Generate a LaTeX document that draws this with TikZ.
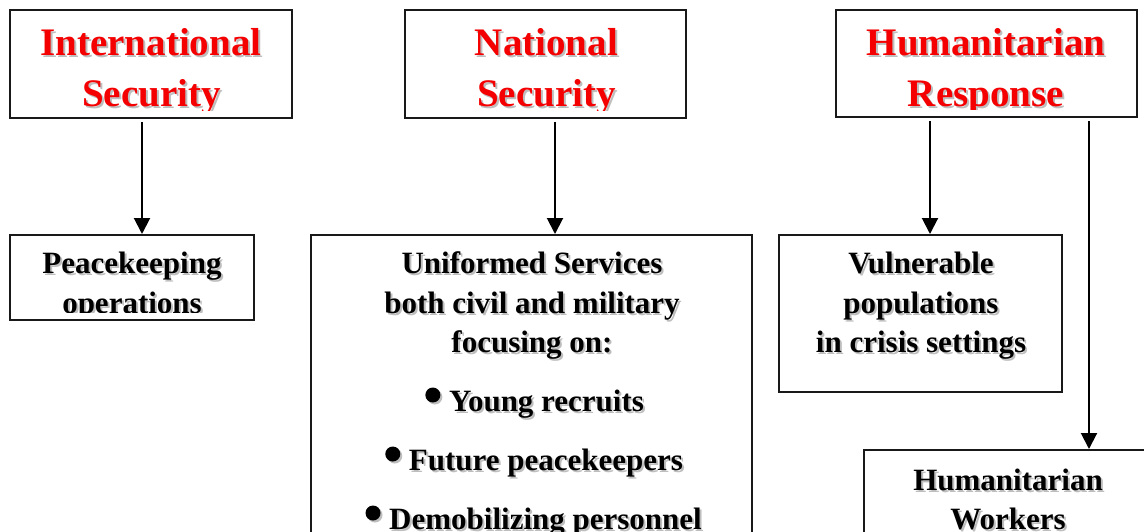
\documentclass[tikz,border=0pt]{standalone}
\usepackage{fontspec}
\setmainfont{Liberation Serif}
\usetikzlibrary{arrows.meta,calc}
\definecolor{shadowgray}{RGB}{190,190,190}
\definecolor{titlered}{RGB}{245,0,0}
\newcommand{\shd}[2]{\leavevmode\rlap{\kern2pt\raisebox{-2pt}{\textcolor{shadowgray}{#2}}}\textcolor{#1}{#2}}
\begin{document}
\begin{tikzpicture}[x=1pt,y=-1pt,
  boxnode/.style={draw=black!90, line width=2pt, rectangle, inner sep=0pt, fill=none},
  bodytxt/.style={inner sep=0pt, font=\bfseries\fontsize{31}{31}\selectfont, anchor=base},
  titletxt/.style={inner sep=0pt, font=\bfseries\fontsize{39}{39}\selectfont, anchor=base},
  arr/.style={line width=2pt, draw=black, -{Triangle[length=16pt,width=16pt]}, shorten <=3pt}
]
\useasboundingbox (0,0) rectangle (1144,531);
\fill[white] (0,0) rectangle (1144,531);
\clip (0,0) rectangle (1144,531);

% ---- boxes ----
\node[boxnode, minimum width=282pt, minimum height=108pt] (is) at (151,64) {};
\node[boxnode, minimum width=281pt, minimum height=108pt] (ns) at (545.5,64) {};
\node[boxnode, minimum width=301pt, minimum height=107pt] (hr) at (986.5,63.5) {};
\node[boxnode, minimum width=244pt, minimum height=85pt] (pk) at (132,277.5) {};
\node[boxnode, minimum width=441pt, minimum height=385pt] (us) at (531.5,427.5) {};
\node[boxnode, minimum width=283pt, minimum height=157pt] (vp) at (920.5,313.5) {};
\node[boxnode, minimum width=336pt, minimum height=170pt] (hw) at (1032,535) {};

% ---- titles (clipped inside their boxes) ----
\begin{scope}
\clip (12,12) rectangle (290,110);
\node[titletxt] (is1) at (151,55) {\shd{titlered}{International}};
\node[titletxt] (is2) at (151.5,106) {\shd{titlered}{Security}};
\end{scope}
\begin{scope}
\clip (407,12) rectangle (684,110);
\node[titletxt] (ns1) at (546.5,55) {\shd{titlered}{National}};
\node[titletxt] (ns2) at (546.5,106) {\shd{titlered}{Security}};
\end{scope}
\begin{scope}
\clip (838,12) rectangle (1135,109);
\node[titletxt] (hr1) at (986,55) {\shd{titlered}{Humanitarian}};
\node[titletxt] (hr2) at (986,106) {\shd{titlered}{Response}};
\end{scope}

% ---- peacekeeping ----
\begin{scope}
\clip (12,237) rectangle (252,312);
\node[bodytxt] (pk1) at (132,273) {\shd{black}{Peacekeeping}};
\node[bodytxt] (pk2) at (132,313) {\shd{black}{operations}};
\end{scope}

% ---- uniformed services ----
\node[bodytxt] (us1) at (532,273) {\shd{black}{Uniformed Services}};
\node[bodytxt] (us2) at (532,313) {\shd{black}{both civil and military}};
\node[bodytxt] (us3) at (532,352) {\shd{black}{focusing on:}};
\node[bodytxt] (us4) at (546.5,411) {\shd{black}{Young recruits}};
\node[bodytxt] (us5) at (546,470) {\shd{black}{Future peacekeepers}};
\node[bodytxt] (us6) at (545.5,529) {\shd{black}{Demobilizing personnel}};
\foreach \n in {us4,us5,us6}{
  \fill[shadowgray] ($(\n.base west)+(-14,-14)$) circle (7.5pt);
  \fill[black] ($(\n.base west)+(-16,-16)$) circle (7.5pt);
}

% ---- vulnerable populations ----
\node[bodytxt] (vp1) at (921,273) {\shd{black}{Vulnerable}};
\node[bodytxt] (vp2) at (921,313) {\shd{black}{populations}};
\node[bodytxt] (vp3) at (921,352) {\shd{black}{in crisis settings}};

% ---- humanitarian workers ----
\node[bodytxt] (hw1) at (1008,490) {\shd{black}{Humanitarian}};
\node[bodytxt] (hw2) at (1008,529) {\shd{black}{Workers}};

% ---- arrows ----
\draw[arr] ([xshift=-9pt]is.south) -- ([xshift=10pt]pk.north);
\draw[arr] ([xshift=9.5pt]ns.south) -- ([xshift=23.5pt]us.north);
\draw[arr] ([xshift=-56.5pt]hr.south) -- ([xshift=9.5pt]vp.north);
\draw[arr] ([xshift=102.5pt]hr.south) -- ([xshift=57pt]hw.north);
\end{tikzpicture}
\end{document}
